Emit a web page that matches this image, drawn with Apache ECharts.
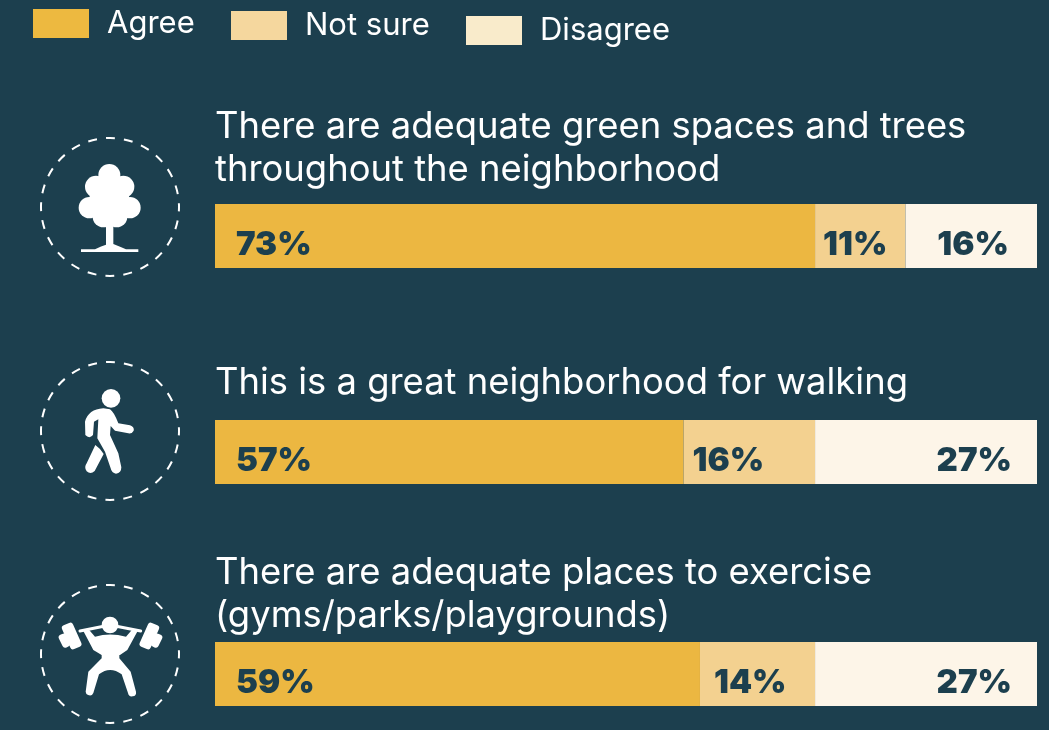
<!DOCTYPE html>
<html><head><meta charset="utf-8">
<style>html,body{margin:0;padding:0;background:#1c3f4e}#c{width:1049px;height:730px}</style>
<script src="https://cdn.jsdelivr.net/npm/echarts@6/dist/echarts.min.js"></script>
</head><body><div id="c"></div>
<script>
const responses = ['Agree', 'Not sure', 'Disagree'];
const questions = [
  'There are adequate green spaces and trees\nthroughout the neighborhood',
  'This is a great neighborhood for walking',
  'There are adequate places to exercise\n(gyms/parks/playgrounds)'
];
const agree = [73, 57, 59];
const notSure = [11, 16, 14];
const disagree = [16, 27, 27];

const BG = '#1c3f4e', INK = '#1c3f4e', WHITE = '#ffffff';
const barColors = ['#ecb741', '#f3d190', '#fdf5e8'];
const swatchColors = ['#edb940', '#f5d79e', '#f9ebcb'];
const gridTops = [204, 420, 642];
const titleTops = [106, 362, 552];
const iconCY = [207, 431, 654];
const legendPos = [[33, 8], [231, 10], [466, 15]];
const labelInset = [[21, 21, 21], [8, 9, 14], [28, 25, 25]];
const UI = 'Inter, Roboto, sans-serif';

const values = [agree, notSure, disagree];
const grids = [], xAxes = [], yAxes = [], series = [];
gridTops.forEach((top, g) => {
  grids.push({left: 215, width: 822, top, height: 64});
  xAxes.push({type: 'value', gridIndex: g, min: 0, max: 100, show: false});
  yAxes.push({type: 'category', gridIndex: g, data: [questions[g]], show: false});
  responses.forEach((name, s) => {
    series.push({
      type: 'bar', name, stack: 'q' + g, xAxisIndex: g, yAxisIndex: g,
      barWidth: '100%', data: [values[s][g]], silent: true,
      itemStyle: {color: barColors[s]},
      label: {
        show: true, formatter: '{c}%', color: INK,
        position: s === 2 ? 'insideRight' : 'insideLeft',
        distance: labelInset[s][g], offset: [0, 9],
        fontFamily: UI, fontWeight: 900, fontSize: 33
      }
    });
  });
});

const legends = responses.map((name, i) => ({
  left: legendPos[i][0], top: legendPos[i][1], padding: 0,
  itemWidth: 56, itemHeight: 29, icon: 'rect', selectedMode: false,
  data: [{name, itemStyle: {color: swatchColors[i]}}],
  textStyle: {color: WHITE, fontFamily: UI, fontSize: 31, padding: [5, 0, 0, 13]}
}));

const titles = questions.map((text, i) => ({
  text, left: 215, top: titleTops[i], padding: 0,
  textStyle: {color: WHITE, fontFamily: UI, fontWeight: 400, fontSize: 36.4, lineHeight: 43}
}));

const fill = {fill: WHITE};
const stroke = w => ({stroke: WHITE, lineWidth: w, lineCap: 'round', lineJoin: 'round', fill: 'none'});
const c = (cx, cy, r) => ({type: 'circle', shape: {cx, cy, r}, style: fill});
const pathEl = (pathData, style) => ({type: 'path', shape: {pathData}, style});
const tree = [
  c(268, 165, 33), c(228, 200, 33), c(310, 200, 33), c(208, 263, 32), c(330, 263, 32),
  c(250, 290, 32), c(290, 290, 32), c(268, 240, 60),
  pathEl('M258 310 L280 310 L280 372 Q300 380 318 388 L355 388 L355 396 L183 396 L183 388 L225 388 Q245 378 258 374 Z', fill)
];
const walker = [
  c(273, 145, 28),
  pathEl('M250 175 L270 178 Q282 186 295 220 L330 226 Q344 232 341 242 Q336 252 325 250 L285 242 L272 228 L270 255 L295 310 L304 352 Q304 370 288 371 Q275 370 272 355 L255 305 L232 265 L235 208 L222 215 L219 255 Q208 268 196 255 L195 215 Q205 178 250 175 Z', fill),
  pathEl('M226 285 Q242 296 251 312 L224 363 Q212 374 200 364 Q191 352 200 340 Z', fill)
];
const plate = (cx, cy, w, h, a) => ({type: 'rect', originX: cx, originY: cy, rotation: a, shape: {x: cx - w / 2, y: cy - h / 2, width: w, height: h, r: 9}, style: fill});
const lifter = [
  c(270, 150, 25),
  pathEl('M180 168 L270 150 L362 168', stroke(9)),
  pathEl('M190 168 L205 162 L225 185 Q270 172 318 185 L338 162 L353 168 L322 225 L300 240 L245 240 L220 225 Z', fill),
  pathEl('M245 230 L298 230 L298 250 L332 290 L348 350 A12 12 0 0 1 324 354 L305 298 Q270 272 237 298 L220 354 A12 12 0 0 1 197 350 L205 290 L245 250 Z', fill),
  plate(155, 183, 36, 78, 0.42), plate(133, 197, 24, 42, 0.46),
  plate(388, 183, 36, 78, -0.42), plate(410, 197, 24, 42, -0.46)
];
const icons = [[tree, 120], [walker, 350], [lifter, 575]];
series.push({
  type: 'custom', coordinateSystem: 'none', silent: true, data: [0], z: 5,
  renderItem() {
    const children = [];
    iconCY.forEach((cy, i) => {
      children.push({type: 'circle', shape: {cx: 110, cy, r: 69},
        style: {fill: 'none', stroke: WHITE, lineWidth: 2, lineDash: [9, 9.06], lineDashOffset: 4.5}});
      children.push({type: 'group', x: 20, y: icons[i][1], scaleX: 1 / 3, scaleY: 1 / 3, children: icons[i][0]});
    });
    return {type: 'group', children};
  }
});

echarts.init(document.getElementById('c')).setOption({
  backgroundColor: BG, animation: false,
  title: titles, legend: legends, grid: grids, xAxis: xAxes, yAxis: yAxes, series
});
</script></body></html>
